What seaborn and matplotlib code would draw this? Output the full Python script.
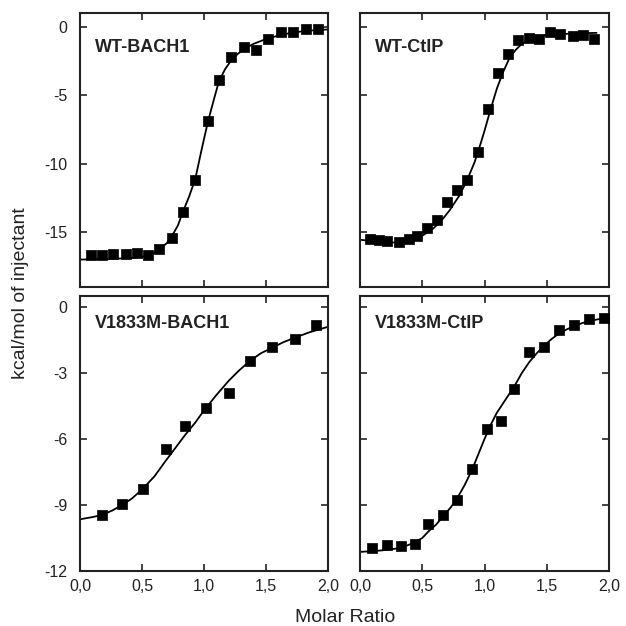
import matplotlib.pyplot as plt
import seaborn as sns
from matplotlib.ticker import FuncFormatter

# --- Data
# WT-BACH1
wt_bach1_x = [0.09, 0.18, 0.27, 0.37, 0.46, 0.55, 0.64, 0.74, 0.83, 0.93,
              1.03, 1.12, 1.22, 1.32, 1.42, 1.52, 1.62, 1.72, 1.82, 1.92]
wt_bach1_y = [-16.7, -16.7, -16.6, -16.6, -16.5, -16.7, -16.2, -15.4, -13.5, -11.2,
              -6.9, -3.9, -2.2, -1.5, -1.7, -0.9, -0.4, -0.4, -0.2, -0.2]
wt_bach1_fit_x = [0.0, 0.2, 0.4, 0.5, 0.58, 0.64, 0.7, 0.74, 0.79, 0.83, 0.88, 0.93, 0.98,
                  1.03, 1.08, 1.12, 1.17, 1.22, 1.27, 1.32, 1.4, 1.5, 1.6, 1.7, 1.8, 1.9, 2.0]
wt_bach1_fit_y = [-17.0, -16.95, -16.9, -16.8, -16.6, -16.25, -15.8, -15.3, -14.5, -13.5, -12.4, -11.1, -9.0,
                  -7.0, -5.3, -4.0, -3.1, -2.45, -2.0, -1.65, -1.25, -0.9, -0.65, -0.45, -0.33, -0.25, -0.2]

# WT-CtIP
wt_ctip_x = [0.08, 0.15, 0.22, 0.31, 0.39, 0.46, 0.54, 0.62, 0.70, 0.78, 0.86, 0.95,
             1.03, 1.11, 1.19, 1.27, 1.36, 1.44, 1.53, 1.61, 1.71, 1.79, 1.88]
wt_ctip_y = [-15.5, -15.6, -15.65, -15.7, -15.5, -15.25, -14.7, -14.1, -12.8, -11.9, -11.2, -9.15,
             -6.0, -3.4, -2.0, -1.0, -0.8, -0.9, -0.4, -0.55, -0.65, -0.6, -0.9]
wt_ctip_fit_x = [0.0, 0.1, 0.2, 0.3, 0.4, 0.5, 0.58, 0.65, 0.72, 0.8, 0.86, 0.92, 0.97, 1.0,
                 1.05, 1.1, 1.15, 1.2, 1.25, 1.3, 1.4, 1.5, 1.7, 1.9]
wt_ctip_fit_y = [-15.55, -15.65, -15.75, -15.75, -15.6, -15.25, -14.8, -14.2, -13.4, -12.3, -11.2, -9.9, -8.5, -7.6,
                 -6.0, -4.5, -3.3, -2.3, -1.7, -1.25, -0.8, -0.6, -0.5, -0.45]

# V1833M-BACH1
mut_bach1_x = [0.18, 0.34, 0.51, 0.69, 0.85, 1.02, 1.20, 1.37, 1.55, 1.73, 1.90]
mut_bach1_y = [-9.45, -8.97, -8.29, -6.47, -5.41, -4.61, -3.9, -2.47, -1.82, -1.44, -0.83]
mut_bach1_fit_x = [0.0, 0.1, 0.18, 0.26, 0.34, 0.42, 0.5, 0.6, 0.69, 0.77, 0.85, 0.93, 1.0,
                   1.1, 1.2, 1.28, 1.37, 1.46, 1.55, 1.64, 1.73, 1.85, 2.0]
mut_bach1_fit_y = [-9.65, -9.55, -9.45, -9.25, -9.0, -8.7, -8.3, -7.7, -7.0, -6.4, -5.8, -5.25, -4.7,
                   -4.0, -3.35, -2.9, -2.45, -2.1, -1.85, -1.6, -1.4, -1.15, -0.9]

# V1833M-CtIP
mut_ctip_x = [0.10, 0.22, 0.33, 0.44, 0.55, 0.67, 0.78, 0.90, 1.02, 1.13,
              1.24, 1.36, 1.48, 1.60, 1.72, 1.84, 1.96]
mut_ctip_y = [-10.94, -10.83, -10.86, -10.75, -9.85, -9.47, -8.79, -7.35, -5.54, -5.17,
              -3.73, -2.04, -1.81, -1.03, -0.83, -0.53, -0.5]
mut_ctip_fit_x = [0.0, 0.1, 0.2, 0.33, 0.44, 0.5, 0.55, 0.61, 0.67, 0.73, 0.78, 0.84, 0.9, 0.95, 1.0,
                  1.05, 1.1, 1.17, 1.24, 1.3, 1.36, 1.42, 1.48, 1.54, 1.6, 1.66, 1.72, 1.78, 1.84, 1.92, 2.0]
mut_ctip_fit_y = [-11.13, -11.1, -11.05, -10.95, -10.7, -10.5, -10.2, -9.9, -9.5, -9.1, -8.7, -8.1, -7.4, -6.7, -6.0,
                  -5.35, -4.8, -4.2, -3.6, -3.0, -2.5, -2.1, -1.75, -1.45, -1.2, -1.02, -0.87, -0.74, -0.64, -0.55, -0.5]

panel_names = ['WT-BACH1', 'WT-CtIP', 'V1833M-BACH1', 'V1833M-CtIP']

# --- General Plot Settings
sns.set_style("ticks")
plt.rcParams['font.family'] = ['Liberation Sans', 'DejaVu Sans']
plt.rcParams['axes.unicode_minus'] = False
plt.rcParams['xtick.direction'] = 'in'
plt.rcParams['ytick.direction'] = 'in'

W = H = 626
fig = plt.figure(figsize=(6.26, 6.26), dpi=100)


def px_rect(x0, y0, x1, y1):
    return [x0 / W, 1 - y1 / H, (x1 - x0) / W, (y1 - y0) / H]


panels = [
    (px_rect(80, 13, 328, 287), wt_bach1_x, wt_bach1_y, wt_bach1_fit_x, wt_bach1_fit_y, (-19, 1), [0, -5, -10, -15], True, False),
    (px_rect(360, 13, 609, 287), wt_ctip_x, wt_ctip_y, wt_ctip_fit_x, wt_ctip_fit_y, (-19, 1), [0, -5, -10, -15], False, False),
    (px_rect(80, 296, 328, 571), mut_bach1_x, mut_bach1_y, mut_bach1_fit_x, mut_bach1_fit_y, (-12, 0.5), [0, -3, -6, -9, -12], True, True),
    (px_rect(360, 296, 609, 571), mut_ctip_x, mut_ctip_y, mut_ctip_fit_x, mut_ctip_fit_y, (-12, 0.5), [0, -3, -6, -9, -12], False, True),
]

comma_fmt = FuncFormatter(lambda v, p: f'{v:.1f}'.replace('.', ','))

for (rect, x, y, fx, fy, ylim, yticks, show_y, show_x), name in zip(panels, panel_names):
    ax = fig.add_axes(rect)
    # fitted curve + measured points
    sns.lineplot(x=fx, y=fy, ax=ax, color='black', linewidth=1.3, sort=False, estimator=None)
    sns.scatterplot(x=x, y=y, ax=ax, marker='s', s=52, color='black', edgecolor='black', linewidth=0.5, zorder=3)

    ax.set_xlim(0, 2)
    ax.set_ylim(*ylim)
    ax.set_xticks([0, 0.5, 1.0, 1.5, 2.0])
    ax.set_yticks(yticks)
    ax.xaxis.set_major_formatter(comma_fmt)
    ax.tick_params(axis='both', which='both', top=True, right=True, length=5, width=1.2,
                   labelsize=11.5, colors='#222222')
    ax.tick_params(axis='x', pad=6)
    ax.tick_params(axis='y', pad=9)
    ax.tick_params(labelbottom=show_x, labelleft=show_y)
    for sp in ax.spines.values():
        sp.set_linewidth(1.5)
        sp.set_color('#222222')
    ax.set_xlabel('')
    ax.set_ylabel('')

    label_y = 0.875 if ylim[0] == -19 else 0.9
    ax.text(0.06, label_y, name, transform=ax.transAxes, fontsize=13, fontweight='bold',
            color='#222222', va='center', ha='left')

#  Shared axis labels
fig.text(345 / W, 1 - 617 / H, 'Molar Ratio', ha='center', va='center', fontsize=14, color='#222222')
fig.text(21 / W, 1 - 293 / H, 'kcal/mol of injectant', ha='center', va='center',
         rotation=90, fontsize=14, color='#222222')

plt.savefig('out.png', dpi=100)
plt.close()
